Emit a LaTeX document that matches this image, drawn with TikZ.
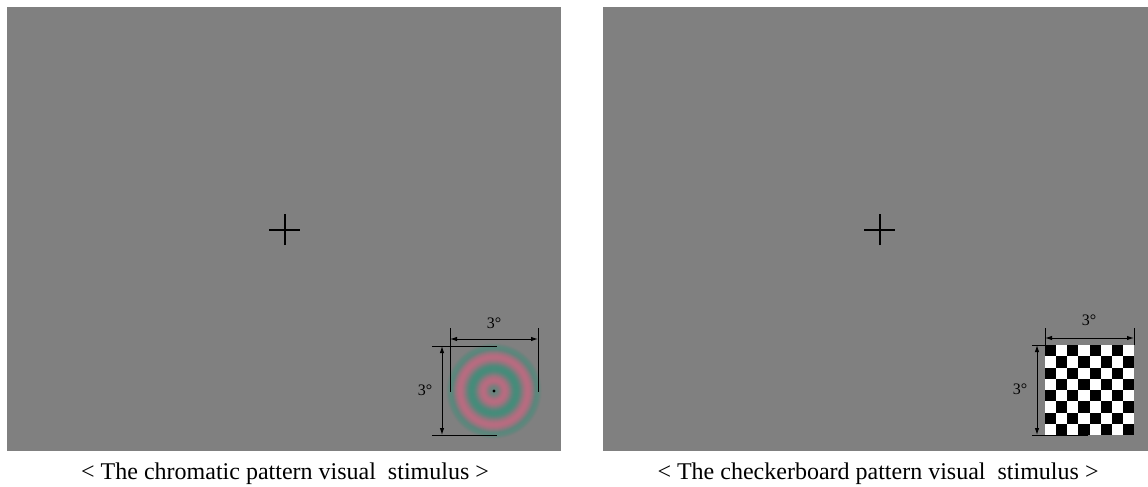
\documentclass[tikz,border=0pt]{standalone}
\usepackage{fontspec}
\setmainfont{Liberation Serif}
\usetikzlibrary{arrows.meta}
\definecolor{Screen}{RGB}{128,128,128}
\definecolor{RingPink}{RGB}{184,108,128}
\definecolor{RingGreen}{RGB}{70,140,122}
\tikzset{
    screen/.style={fill=Screen},
    fixcross/.style={line width=2pt, black},
    dimline/.style={line width=1pt, black},
    dimarrow/.style={line width=1pt, black, {Latex[length=7pt,width=4.5pt]}-{Latex[length=7pt,width=4.5pt]}},
    dimlabel/.style={font=\fontsize{16}{19}\selectfont, inner sep=0pt},
    caption/.style={font=\fontsize{24}{28}\selectfont, anchor=base, inner sep=0pt},
}

\begin{document}
\begin{tikzpicture}[x=1pt, y=-1pt]
    \useasboundingbox[fill=white] (0,0) rectangle (1148,487);

    % --- SCHERMO 1: stimolo cromatico ---
    \fill[screen] (7,7) rectangle (561,451);

    % Croce di fissazione
    \coordinate (fixA) at (284.5,229.5);
    \draw[fixcross] ([xshift=-15.5pt]fixA) -- ([xshift=15.5pt]fixA);
    \draw[fixcross] ([yshift=-15.5pt]fixA) -- ([yshift=15.5pt]fixA);

    % Anelli (rosa / verde, bordo e centro sfumati)
    \coordinate (ring) at (494,391);
    \foreach \r in {48,47.5,...,0.5} {
        \pgfmathsetmacro{\w}{50+50*cos(360*(\r-11)/23)}
        \pgfmathsetmacro{\s}{max(0,min(100,100*(48.5-\r)/7,35+65*\r/8))}
        \colorlet{ringmix}{RingPink!\w!RingGreen}
        \fill[ringmix!\s!Screen] (ring) circle (\r);
    }
    \fill[black] (ring) circle (1.7);

    % Quote orizzontali
    \draw[dimline] (450,328) -- (450,392);
    \draw[dimline] (538,328) -- (538,392);
    \coordinate (hA1) at (450,339);
    \coordinate (hA2) at (538,339);
    \draw[dimarrow] (hA1) -- (hA2);
    \node[dimlabel] (hlabA) at (494,323) {3°};

    % Quote verticali
    \draw[dimline] (432,346) -- (497,346);
    \draw[dimline] (432,435) -- (497,435);
    \coordinate (vA1) at (442,346);
    \coordinate (vA2) at (442,435);
    \draw[dimarrow] (vA1) -- (vA2);
    \node[dimlabel] (vlabA) at (425,390) {3°};

    % Didascalia
    \node[caption] (capA) at (285,479) {< The chromatic pattern visual\ \ stimulus >};

    % --- SCHERMO 2: scacchiera ---
    \fill[screen] (603,7) rectangle (1148,451);

    \coordinate (fixB) at (879.5,229.5);
    \draw[fixcross] ([xshift=-15.5pt]fixB) -- ([xshift=15.5pt]fixB);
    \draw[fixcross] ([yshift=-15.5pt]fixB) -- ([yshift=15.5pt]fixB);

    % Scacchiera 8x8
    \fill[white] (1045,345) rectangle (1134,435);
    \foreach \i in {0,...,7} {
        \foreach \j in {0,...,7} {
            \pgfmathtruncatemacro{\odd}{mod(\i+\j,2)}
            \ifnum\odd=0
                \fill[black] (1045+\i*11.125,345+\j*11.25) rectangle ++(11.125,11.25);
            \fi
        }
    }

    % Quote orizzontali
    \draw[dimline] (1045,328) -- (1045,345);
    \draw[dimline] (1134,328) -- (1134,345);
    \coordinate (hB1) at (1045,338);
    \coordinate (hB2) at (1134,338);
    \draw[dimarrow] (hB1) -- (hB2);
    \node[dimlabel] (hlabB) at (1089,320) {3°};

    % Quote verticali
    \draw[dimline] (1032,345) -- (1045,345);
    \draw[dimline] (1032,435) -- (1088,435);
    \coordinate (vB1) at (1037,345);
    \coordinate (vB2) at (1037,435);
    \draw[dimarrow] (vB1) -- (vB2);
    \node[dimlabel] (vlabB) at (1020,389) {3°};

    % Didascalia
    \node[caption] (capB) at (878,479) {< The checkerboard pattern visual\ \ stimulus >};
\end{tikzpicture}
\end{document}
